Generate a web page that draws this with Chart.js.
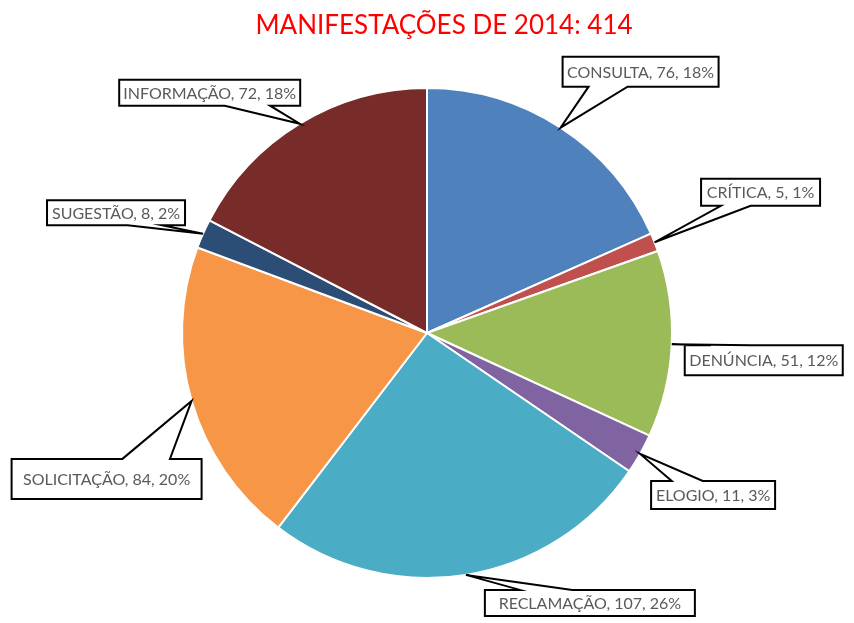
<!DOCTYPE html>
<html><head><meta charset="utf-8">
<script src="https://cdn.jsdelivr.net/npm/chart.js@4/dist/chart.umd.min.js"></script>
<style>html,body{margin:0;padding:0;background:#fff;}#wrap{width:854px;height:623px;}</style>
</head><body><div id="wrap"><canvas id="c" width="854" height="623"></canvas></div>
<script>
const categories = ['CONSULTA','CRÍTICA','DENÚNCIA','ELOGIO','RECLAMAÇÃO','SOLICITAÇÃO','SUGESTÃO','INFORMAÇÃO'];
const values = [76, 5, 51, 11, 107, 84, 8, 72];
const percentLabels = [18, 1, 12, 3, 26, 20, 2, 18];
const titlePrefix = 'MANIFESTAÇÕES DE 2014: ';

const sliceColors = ['#4F81BD','#C0504D','#9BBB59','#8064A2','#4BACC6','#F79646','#2C4D75','#772C2A'];
// callout boxes: offset of box centre from the slice tip, and box size
const callouts = [
  {dx: 80, dy: -56, w: 156, h: 30},
  {dx: 106, dy: -50, w: 119, h: 27},
  {dx: 92, dy: 16, w: 158, h: 30, force: 'top'},
  {dx: 73, dy: 41, w: 124, h: 28},
  {dx: 124, dy: 28, w: 210, h: 26},
  {dx: -85, dy: 78, w: 190, h: 40},
  {dx: -87, dy: -21, w: 138, h: 25},
  {dx: -90, dy: -31, w: 181, h: 26}
];
const total = values.reduce((a, b) => a + b, 0);
const LABEL_FONT = '16px Lato, "Open Sans", sans-serif';
const TITLE_FONT = '26px Lato, "Open Sans", sans-serif';

function calloutPath(ctx, l, t, w, h, xPos, yPos, force) {
  const r = l + w, b = t + h, hc = l + w / 2, vc = t + h / 2;
  const dxPos = xPos - hc, dyPos = yPos - vc;
  const dq = dxPos * h / w;
  let dz = Math.abs(dyPos) - Math.abs(dq);
  let side;
  if (force) side = force;
  else if (dz > 0) side = dyPos > 0 ? 'bottom' : 'top';
  else side = dxPos > 0 ? 'right' : 'left';
  const x1 = l + w * (dxPos > 0 ? 7 : 2) / 12, x2 = l + w * (dxPos > 0 ? 10 : 5) / 12;
  const y1 = t + h * (dyPos > 0 ? 7 : 2) / 12, y2 = t + h * (dyPos > 0 ? 10 : 5) / 12;
  ctx.beginPath();
  ctx.moveTo(l, t);
  if (side === 'top') { ctx.lineTo(x1, t); ctx.lineTo(xPos, yPos); ctx.lineTo(x2, t); }
  ctx.lineTo(r, t);
  if (side === 'right') { ctx.lineTo(r, y1); ctx.lineTo(xPos, yPos); ctx.lineTo(r, y2); }
  ctx.lineTo(r, b);
  if (side === 'bottom') { ctx.lineTo(x2, b); ctx.lineTo(xPos, yPos); ctx.lineTo(x1, b); }
  ctx.lineTo(l, b);
  if (side === 'left') { ctx.lineTo(l, y2); ctx.lineTo(xPos, yPos); ctx.lineTo(l, y1); }
  ctx.closePath();
}

const calloutPlugin = {
  id: 'callouts',
  afterDraw(chart) {
    const ctx = chart.ctx;
    const meta = chart.getDatasetMeta(0);
    ctx.save();
    meta.data.forEach((arc, i) => {
      const p = arc.getProps(['x', 'y', 'startAngle', 'endAngle', 'outerRadius'], true);
      const mid = (p.startAngle + p.endAngle) / 2;
      const tx = p.x + Math.cos(mid) * p.outerRadius;
      const ty = p.y + Math.sin(mid) * p.outerRadius;
      const c = callouts[i];
      const cx = tx + c.dx, cy = ty + c.dy;
      const l = cx - c.w / 2, t = cy - c.h / 2;
      calloutPath(ctx, l, t, c.w, c.h, tx, ty, c.force);
      ctx.fillStyle = '#FFFFFF';
      ctx.fill();
      ctx.lineWidth = 2;
      ctx.strokeStyle = '#000000';
      ctx.lineJoin = 'miter';
      ctx.stroke();
      ctx.fillStyle = '#595959';
      ctx.font = LABEL_FONT;
      ctx.textAlign = 'center';
      ctx.textBaseline = 'middle';
      ctx.fillText(categories[i] + ', ' + values[i] + ', ' + percentLabels[i] + '%', cx, cy + 1);
    });
    // title
    ctx.fillStyle = '#FF0000';
    ctx.font = TITLE_FONT;
    ctx.textAlign = 'center';
    ctx.textBaseline = 'alphabetic';
    ctx.fillText(titlePrefix + total, 444, 34);
    ctx.restore();
  }
};

new Chart(document.getElementById('c'), {
  type: 'pie',
  data: {
    labels: categories,
    datasets: [{
      data: values,
      backgroundColor: sliceColors,
      borderColor: '#FFFFFF',
      borderWidth: 2
    }]
  },
  options: {
    responsive: false,
    animation: false,
    layout: {padding: {top: 87, bottom: 44, left: 0, right: 0}},
    plugins: {legend: {display: false}, tooltip: {enabled: false}, title: {display: false}}
  },
  plugins: [calloutPlugin]
});
</script></body></html>
